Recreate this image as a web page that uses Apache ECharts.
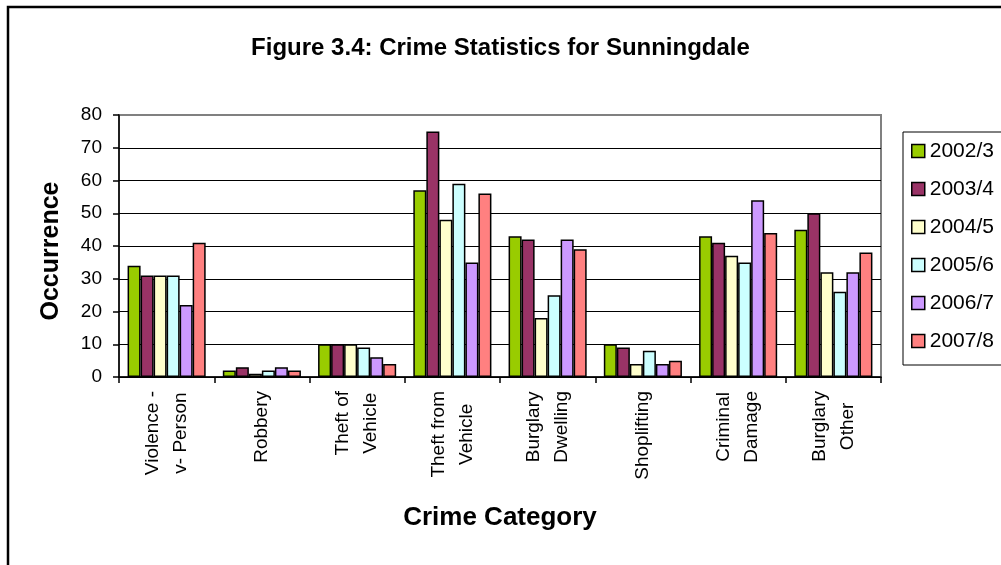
<!DOCTYPE html>
<html>
<head>
<meta charset="utf-8">
<script src="https://cdn.jsdelivr.net/npm/echarts@6/dist/echarts.min.js"></script>
<style>
  html, body { margin: 0; padding: 0; background: #fff; }
  #chart { width: 1001px; height: 565px; }
</style>
</head>
<body>
<div id="chart"></div>
<script>
// ---- data ----
const categories = ['Violence -\nv- Person', 'Robbery', 'Theft of\nVehicle', 'Theft from\nVehicle',
                    'Burglary\nDwelling', 'Shoplifting', 'Criminal\nDamage', 'Burglary\nOther'];
const seriesNames = ['2002/3', '2003/4', '2004/5', '2005/6', '2006/7', '2007/8'];
const v2002 = [34, 2, 10, 57, 43, 10, 43, 45];
const v2003 = [31, 3, 10, 75, 42, 9, 41, 50];
const v2004 = [31, 1, 10, 48, 18, 4, 37, 32];
const v2005 = [31, 2, 9, 59, 25, 8, 35, 26];
const v2006 = [22, 3, 6, 35, 42, 4, 54, 32];
const v2007 = [41, 2, 4, 56, 39, 5, 44, 38];
const yTicks = [0, 10, 20, 30, 40, 50, 60, 70, 80];

const seriesValues = [v2002, v2003, v2004, v2005, v2006, v2007];
const colors = ['#99CC00', '#993366', '#FFFFCC', '#CCFFFF', '#CC99FF', '#FF8080'];
const FONT = 'Liberation Sans, Arial, sans-serif';

const chart = echarts.init(document.getElementById('chart'), null, { renderer: 'canvas' });

chart.setOption({
  animation: false,
  backgroundColor: '#fff',
  color: colors,
  textStyle: { fontFamily: FONT, color: '#000' },
  title: {
    text: 'Figure 3.4: Crime Statistics for Sunningdale',
    left: 'center',
    top: 36,
    padding: [0, 0, 0, 14],
    textStyle: { fontFamily: FONT, fontSize: 24, fontWeight: 'bold', color: '#000' }
  },
  graphic: [{
    type: 'rect',
    shape: { x: 8, y: 7, width: 1100, height: 700 },
    style: { fill: 'none', stroke: '#000', lineWidth: 2.5 },
    silent: true,
    z: 100
  }],
  legend: {
    orient: 'vertical',
    left: 903,
    top: 132,
    padding: [7, 40, 12, 8],
    borderColor: '#000',
    borderWidth: 1,
    itemWidth: 13,
    itemHeight: 13,
    itemGap: 14,
    icon: 'rect',
    itemStyle: { borderColor: '#000', borderWidth: 1.5 },
    textStyle: { fontFamily: FONT, fontSize: 21, color: '#000', lineHeight: 24 },
    data: seriesNames
  },
  grid: {
    left: 119,
    right: 120,
    top: 115,
    bottom: 188,
    show: true,
    borderColor: '#808080',
    borderWidth: 2,
    containLabel: false
  },
  xAxis: {
    type: 'category',
    data: categories,
    name: 'Crime Category',
    nameLocation: 'middle',
    nameGap: 128,
    nameTextStyle: { fontFamily: FONT, fontSize: 26, fontWeight: 'bold', color: '#000' },
    axisLine: { show: true, lineStyle: { color: '#000', width: 1.5 } },
    axisTick: { show: true, length: 6, alignWithLabel: false, lineStyle: { color: '#000', width: 1.5 } },
    axisLabel: {
      rotate: 90,
      margin: 14,
      interval: 0,
      fontFamily: FONT,
      fontSize: 19,
      color: '#000',
      lineHeight: 28,
      formatter: v => v.split('\n').map(l => '{c|' + l + '}').join('\n'),
      rich: { c: { align: 'center', fontFamily: FONT, fontSize: 19, lineHeight: 28, color: '#000' } }
    },
    splitLine: { show: false }
  },
  yAxis: {
    type: 'value',
    min: 0,
    max: 80,
    interval: 10,
    name: 'Occurrence',
    nameLocation: 'middle',
    nameGap: 55,
    nameRotate: 90,
    nameTextStyle: { fontFamily: FONT, fontSize: 25, fontWeight: 'bold', color: '#000', padding: [0, 10, 0, 0] },
    axisLine: { show: true, lineStyle: { color: '#000', width: 1.5 } },
    axisTick: { show: true, length: 6, lineStyle: { color: '#000', width: 1.5 } },
    axisLabel: {
      margin: 17,
      fontFamily: FONT,
      fontSize: 19,
      color: '#000',
      formatter: v => (yTicks.indexOf(v) >= 0 ? String(v) : '')
    },
    splitLine: { show: true, showMaxLine: false, lineStyle: { color: '#000', width: 1 } }
  },
  series: seriesValues.map((vals, i) => ({
    name: seriesNames[i],
    type: 'bar',
    data: vals,
    barGap: '0%',
    barCategoryGap: '18%',
    itemStyle: { color: colors[i], borderColor: '#000', borderWidth: 1.5 }
  }))
});
</script>
</body>
</html>
